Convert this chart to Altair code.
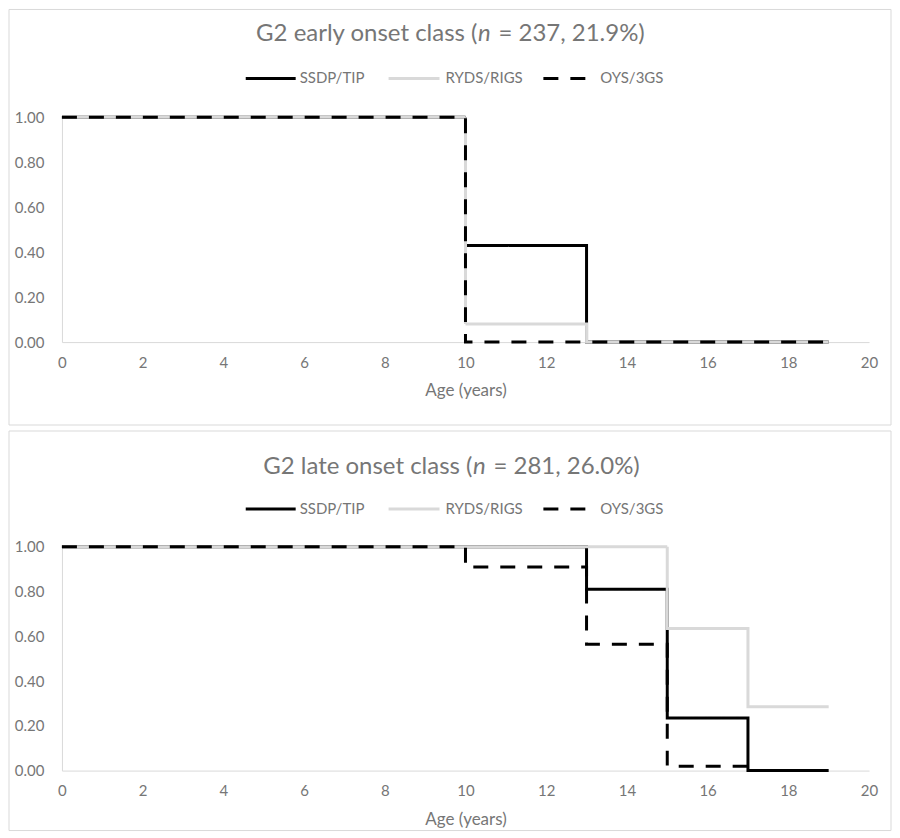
import altair as alt
import pandas as pd

# ---------------- data ----------------
series = ["SSDP/TIP", "RYDS/RIGS", "OYS/3GS"]

early_age = [0, 10, 13, 19]
early_ssdp = [1.00, 0.43, 0.00, 0.00]
early_ryds = [1.00, 0.08, 0.00, 0.00]
early_oys = [1.00, 0.00, 0.00, 0.00]

late_age = [0, 10, 13, 15, 17, 19]
late_ssdp = [1.00, 1.00, 0.81, 0.235, 0.00, 0.00]
late_ryds = [1.00, 1.00, 1.00, 0.635, 0.285, 0.285]
late_oys = [1.00, 0.91, 0.565, 0.02, 0.00, 0.00]

x_ticks = [0, 2, 4, 6, 8, 10, 12, 14, 16, 18, 20]
y_ticks = [0.0, 0.2, 0.4, 0.6, 0.8, 1.0]

# ---------------- styles ----------------
FONT = "Lato"
TXT = "#767676"
GRID = "#d9d9d9"
style = {
    "SSDP/TIP": {"color": "#000000", "dash": [1, 0]},
    "RYDS/RIGS": {"color": "#d9d9d9", "dash": [1, 0]},
    "OYS/3GS": {"color": "#000000", "dash": [15, 12]},
}
PLOT_W = 808


def make_df(age, vals):
    rows = []
    for s, v in zip(series, vals):
        for a, p in zip(age, v):
            rows.append({"series": s, "age": a, "p": p})
    return pd.DataFrame(rows)


def one():
    return pd.DataFrame({"a": [0]})


def panel(age, vals, height, title_parts, title_y, n_x, left_x, right_x,
          legend_y, rect_top, rect_bottom, title_pad):
    df = make_df(age, vals)
    x_enc = alt.X(
        "age:Q",
        scale=alt.Scale(domain=[0, 20], nice=False, zero=False),
        axis=alt.Axis(
            values=x_ticks, title="Age (years)", grid=False, ticks=False, tickSize=0,
            domainColor=GRID, domainWidth=1, labelPadding=13, labelFlush=False,
            labelColor=TXT, labelFont=FONT, labelFontSize=15,
            titleColor=TXT, titleFont=FONT, titleFontSize=17,
            titleFontWeight="normal", titlePadding=title_pad,
        ),
    )
    y_enc = alt.Y(
        "p:Q",
        scale=alt.Scale(domain=[0, 1], nice=False),
        axis=alt.Axis(
            values=y_ticks, format=".2f", title=None, grid=False, ticks=False,
            tickSize=0, domainColor=GRID, domainWidth=1, labelPadding=18,
            labelFlush=False, labelColor=TXT, labelFont=FONT, labelFontSize=15,
        ),
    )

    layers = []
    # panel border
    layers.append(
        alt.Chart(one()).mark_rect(fillOpacity=0, stroke=GRID, strokeWidth=1).encode(
            x=alt.value(-53), x2=alt.value(830),
            y=alt.value(rect_top), y2=alt.value(rect_bottom),
        )
    )
    # step lines
    for s in series:
        st = style[s]
        layers.append(
            alt.Chart(df[df["series"] == s]).mark_line(
                interpolate="step-after", color=st["color"], strokeWidth=3,
                strokeDash=st["dash"], strokeCap="butt",
            ).encode(x=x_enc, y=y_enc)
        )
    # title (with italic n)
    left_txt, n_txt, right_txt = title_parts
    for txt, xpos, align, fstyle in [
        (left_txt, left_x, "right", "normal"),
        (n_txt, n_x, "center", "italic"),
        (right_txt, right_x, "left", "normal"),
    ]:
        layers.append(
            alt.Chart(pd.DataFrame({"t": [txt]})).mark_text(
                align=align, baseline="middle", font=FONT, fontSize=24,
                fontStyle=fstyle, color=TXT,
            ).encode(text="t:N", x=alt.value(xpos), y=alt.value(title_y))
        )
    # legend
    leg_pos = [(184, 234, 238), (327, 378, 384), (482, 526, 539)]
    for s, (x0, x1, xl) in zip(series, leg_pos):
        st = style[s]
        layers.append(
            alt.Chart(one()).mark_rule(
                color=st["color"], strokeWidth=3, strokeDash=st["dash"], strokeCap="butt",
            ).encode(x=alt.value(x0), x2=alt.value(x1), y=alt.value(legend_y))
        )
        layers.append(
            alt.Chart(pd.DataFrame({"t": [s]})).mark_text(
                align="left", baseline="middle", font=FONT, fontSize=15, color=TXT,
            ).encode(text="t:N", x=alt.value(xl), y=alt.value(legend_y))
        )
    return alt.layer(*layers).properties(width=PLOT_W, height=height)


top = panel(
    early_age, [early_ssdp, early_ryds, early_oys], 225,
    ("G2 early onset class (", "n", "= 237, 21.9%)"),
    -83, 423, 416, 437, -39, -108, 308, 12,
)
bottom = panel(
    late_age, [late_ssdp, late_ryds, late_oys], 224,
    ("G2 late onset class (", "n", "= 281, 26.0%)"),
    -80, 418, 411, 432, -38, -116, 284, 13,
)

chart = (
    alt.vconcat(top, bottom, spacing=4)
    .resolve_scale(x="independent", y="independent")
    .properties(padding=0, background="white")
    .configure_view(strokeWidth=0)
)

chart.save("out.html", embed_options={"renderer": "svg", "actions": False})
